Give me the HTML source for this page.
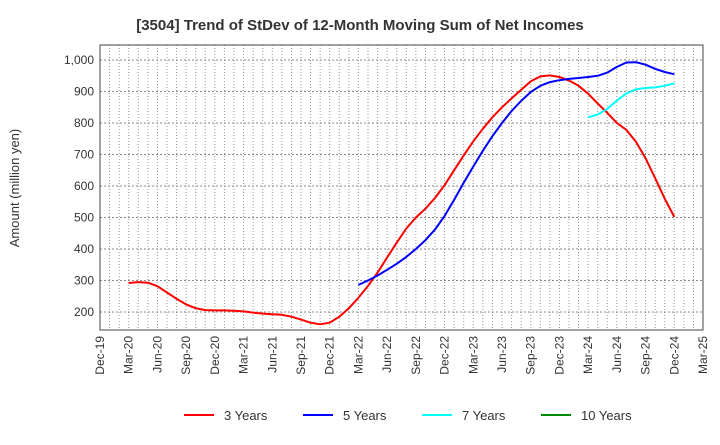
<!DOCTYPE html>
<html><head><meta charset="utf-8"><style>
body{margin:0;background:#fff;font-family:"Liberation Sans",sans-serif}
svg text{font-family:"Liberation Sans",sans-serif}
</style></head><body>
<svg id="chart" width="720" height="440" xmlns="http://www.w3.org/2000/svg">
<text x="360" y="30" text-anchor="middle" font-size="15" font-weight="bold" fill="#333">[3504]  Trend of StDev of 12-Month Moving Sum of Net Incomes</text>
<text transform="translate(19,188) rotate(-90)" text-anchor="middle" font-size="13" fill="#333">Amount (million yen)</text>
<g id="grid"></g><g id="axes"></g><g id="series"></g>
<g font-size="13" fill="#333">
<g><line x1="184" y1="415" x2="214" y2="415" stroke="#f00" stroke-width="2"/><text x="224" y="420">3 Years</text></g>
<g><line x1="303" y1="415" x2="333" y2="415" stroke="#00f" stroke-width="2"/><text x="343" y="420">5 Years</text></g>
<g><line x1="422" y1="415" x2="452" y2="415" stroke="#0ff" stroke-width="2"/><text x="462" y="420">7 Years</text></g>
<g><line x1="541" y1="415" x2="571" y2="415" stroke="#080" stroke-width="2"/><text x="581" y="420">10 Years</text></g>
</g>
</svg>
<script>
const xLabels=["Dec-19","Mar-20","Jun-20","Sep-20","Dec-20","Mar-21","Jun-21","Sep-21","Dec-21","Mar-22","Jun-22","Sep-22","Dec-22","Mar-23","Jun-23","Sep-23","Dec-23","Mar-24","Jun-24","Sep-24","Dec-24","Mar-25"];
const yTicks=[200,300,400,500,600,700,800,900,1000];
const yTickLabels=["200","300","400","500","600","700","800","900","1,000"];
const series3=[292,295,293,282,262,242,224,212,206,205,205,204,202,198,195,193,191,185,176,166,161,166,185,212,245,283,325,373,420,465,500,528,562,603,650,697,742,782,818,850,878,905,932,948,951,946,935,918,893,862,832,800,778,740,688,625,560,502];
const series3Start=3;
const series5=[286,300,316,334,353,375,400,428,462,505,556,610,662,712,758,800,838,870,898,918,930,936,940,943,946,950,960,978,992,993,985,972,962,955];
const series5Start=27;
const series7=[818,827,845,871,894,907,911,913,918,926];
const series7Start=51;
const L=100,R=703,T=45,B=330,totalMonths=63;
function xPos(m){return L+(R-L)*m/totalMonths;}
function yPos(v){return 312-(v-200)*0.315;}
const NS="http://www.w3.org/2000/svg";
function mk(tag,attrs,parent){const e=document.createElementNS(NS,tag);for(const k in attrs)e.setAttribute(k,attrs[k]);parent.appendChild(e);return e;}
const grid=document.getElementById('grid'),axes=document.getElementById('axes'),ser=document.getElementById('series');
for(let m=1;m<totalMonths;m++){const l=mk('line',{x1:xPos(m),x2:xPos(m),y1:T,y2:B,stroke:'#999','stroke-width':1,'stroke-dasharray':'1,2'},grid);

}
yTicks.forEach((v,i)=>{const l=mk('line',{x1:L,x2:R,y1:yPos(v),y2:yPos(v),stroke:'#888','stroke-width':1,'stroke-dasharray':'2,2'},grid);


const t=mk('text',{x:L-6,y:yPos(v)+4,'text-anchor':'end','font-size':12,fill:'#333'},axes);t.textContent=yTickLabels[i];

});
const fr=mk('rect',{x:L,y:T,width:R-L,height:B-T,fill:'none',stroke:'#444','stroke-width':1},axes);


xLabels.forEach((s,i)=>{const x=xPos(i*3);const t=mk('text',{transform:`translate(${x+4},${B+6}) rotate(-90)`,'text-anchor':'end','font-size':12,fill:'#333'},axes);t.textContent=s;

});
function draw(data,start,color,name){const pts=data.map((v,i)=>xPos(start+i).toFixed(1)+','+yPos(v).toFixed(1)).join(' ');
const p=mk('polyline',{points:pts,fill:'none',stroke:color,'stroke-width':2,'stroke-linejoin':'round'},ser);

}
draw(series3,series3Start,'#f00','line-3-years');
draw(series5,series5Start,'#00f','line-5-years');
draw(series7,series7Start,'#0ff','line-7-years');
</script>
</body></html>
